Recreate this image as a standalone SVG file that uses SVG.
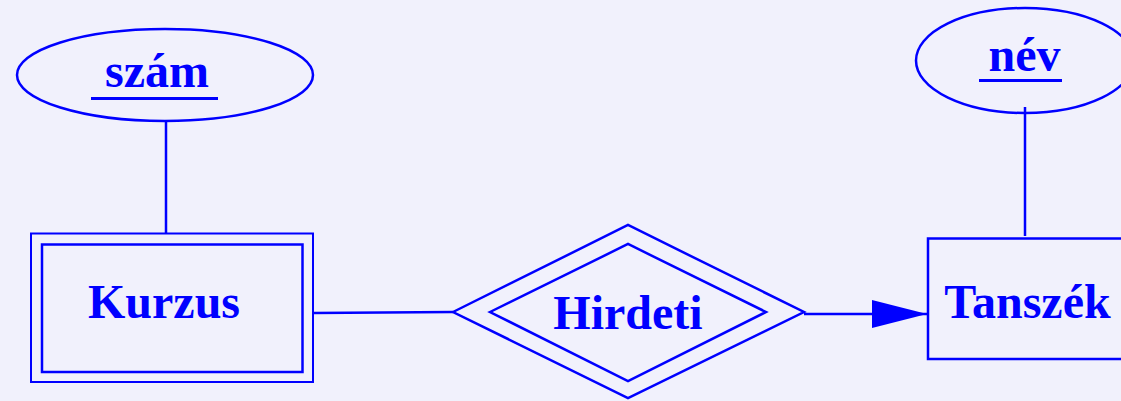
<svg xmlns="http://www.w3.org/2000/svg" width="1121" height="401" viewBox="0 0 1121 401">
  <defs>
    <style>
      .shape { fill: none; stroke: #0000ff; stroke-width: 2.5; }
      .link { fill: none; stroke: #0000ff; stroke-width: 2.5; }
      .label { font-family: "Liberation Serif", "Times New Roman", serif; font-weight: bold; font-size: 48px; fill: #0000ff; }
      .key { stroke: #0000ff; stroke-width: 3; }
    </style>
    <marker id="arrow" markerUnits="userSpaceOnUse" markerWidth="56" markerHeight="30" refX="55" refY="14" orient="auto">
      <path d="M0,0 L55,14 L0,28 Z" fill="#0000ff"/>
    </marker>
  </defs>
  <rect width="1121" height="401" fill="#f1f1fc"/>

  <g id="connectors">
    <line class="link" x1="166" y1="121" x2="166" y2="233"/>
    <line class="link" x1="1025" y1="107" x2="1025" y2="236"/>
    <line class="link" x1="313" y1="313" x2="453" y2="312"/>
    <line class="link" x1="804" y1="314" x2="927" y2="314" marker-end="url(#arrow)"/>
  </g>

  <g id="szam">
    <ellipse class="shape" cx="165" cy="75" rx="148" ry="46"/>
    <text class="label" x="157" y="87" text-anchor="middle">szám</text>
    <line class="key" x1="91" y1="98.5" x2="218" y2="98.5"/>
  </g>

  <g id="nev">
    <ellipse class="shape" cx="1025" cy="60.5" rx="109" ry="52.5"/>
    <text class="label" x="1024.5" y="71" text-anchor="middle">név</text>
    <line class="key" x1="979" y1="80.5" x2="1062" y2="80.5"/>
  </g>

  <g id="kurzus">
    <rect class="shape" x="31" y="233.5" width="282" height="148.5" style="stroke-width:2"/>
    <rect class="shape" x="42" y="244.5" width="260.5" height="127.5"/>
    <text class="label" x="164" y="317.5" text-anchor="middle">Kurzus</text>
  </g>

  <g id="hirdeti">
    <polygon class="shape" points="453,312 628,225 804,312 628,398"/>
    <polygon class="shape" points="490,312 628,244 766,312 628,381"/>
    <text class="label" x="628" y="329" text-anchor="middle">Hirdeti</text>
  </g>

  <g id="tanszek">
    <rect class="shape" x="928" y="238.5" width="220" height="120.5"/>
    <text class="label" x="1027.5" y="317.5" text-anchor="middle">Tanszék</text>
  </g>
</svg>
